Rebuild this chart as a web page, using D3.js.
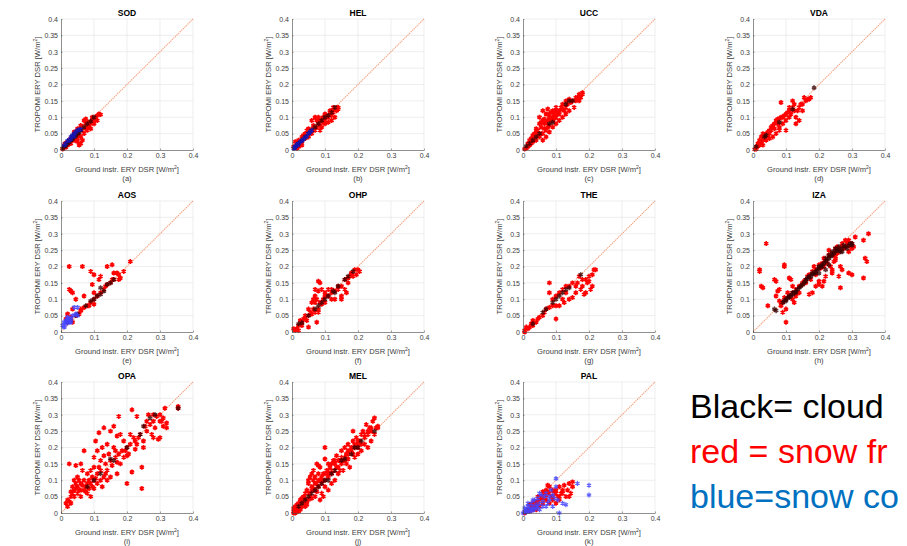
<!DOCTYPE html>
<html><head><meta charset="utf-8">
<script src="https://cdn.jsdelivr.net/npm/d3@7"></script>
<style>
html,body{margin:0;padding:0;background:#fff;overflow:hidden}
text{font-family:"Liberation Sans",Arial,Helvetica,sans-serif}
</style></head>
<body><svg id="c" width="907" height="546"></svg>
<script>
// ---------- data ----------
const stations = ["SOD","HEL","UCC","VDA","AOS","OHP","THE","IZA","OPA","MEL","PAL"];
const panelLetters = ["(a)","(b)","(c)","(d)","(e)","(f)","(g)","(h)","(i)","(j)","(k)"];
const xTicks = [0,0.1,0.2,0.3,0.4];
const xTickLabels = ["0","0.1","0.2","0.3","0.4"];
const yTicks = [0,0.05,0.1,0.15,0.2,0.25,0.3,0.35,0.4];
const yTickLabels = ["0","0.05","0.1","0.15","0.2","0.25","0.3","0.35","0.4"];
const xLabel = "Ground instr. ERY DSR [W/m";
const yLabel = "TROPOMI ERY DSR [W/m";
const legendLines = ["Black= cloud","red = snow fr","blue=snow co"];

// snow free (red)
const redSOD = [[0.005,0.003],[0.01,0.012],[0.012,0.02],[0.015,0.008],[0.02,0.025],[0.02,0.015],[0.025,0.03],[0.03,0.02],[0.03,0.035],[0.035,0.04],[0.04,0.03],[0.04,0.045],[0.045,0.05],[0.05,0.035],[0.05,0.055],[0.055,0.045],[0.06,0.065],[0.06,0.04],[0.065,0.07],[0.06,0.02],[0.055,0.015],[0.05,0.025],[0.07,0.09],[0.075,0.095],[0.08,0.085],[0.085,0.07],[0.09,0.08],[0.095,0.09],[0.1,0.095],[0.105,0.1],[0.11,0.105],[0.115,0.11],[0.12,0.108],[0.1,0.08],[0.09,0.065],[0.08,0.06],[0.07,0.05],[0.06,0.075],[0.05,0.065],[0.04,0.055],[0.075,0.065],[0.11,0.09],[0.065,0.03],[0.015,0.015],[0.025,0.02],[0.035,0.03],[0.045,0.04],[0.055,0.06],[0.065,0.06],[0.075,0.08],[0.085,0.085],[0.095,0.1],[0.105,0.095],[0.08,0.075]];
const redHEL = [[0.06,0.09],[0.07,0.1],[0.08,0.1],[0.09,0.095],[0.1,0.11],[0.11,0.1],[0.12,0.12],[0.13,0.125],[0.14,0.13],[0.13,0.1],[0.12,0.09],[0.1,0.08],[0.09,0.07],[0.08,0.085],[0.07,0.06],[0.06,0.05],[0.05,0.065],[0.045,0.06],[0.04,0.035],[0.03,0.04],[0.02,0.03],[0.01,0.025],[0.02,0.01],[0.03,0.015],[0.015,0.005],[0.005,0.01],[0.065,0.075],[0.075,0.09],[0.085,0.075],[0.095,0.1],[0.105,0.1],[0.115,0.11],[0.125,0.115],[0.135,0.12],[0.12,0.105],[0.11,0.085],[0.1,0.09],[0.04,0.05],[0.05,0.04],[0.035,0.045],[0.085,0.06],[0.095,0.085],[0.055,0.06],[0.065,0.065],[0.075,0.07],[0.085,0.09],[0.095,0.09],[0.105,0.105],[0.115,0.12],[0.125,0.13],[0.135,0.13],[0.14,0.125],[0.03,0.025],[0.025,0.02]];
const redUCC = [[0.05,0.1],[0.06,0.12],[0.07,0.11],[0.075,0.125],[0.08,0.1],[0.09,0.12],[0.1,0.13],[0.11,0.12],[0.12,0.14],[0.13,0.15],[0.14,0.155],[0.15,0.15],[0.16,0.16],[0.17,0.165],[0.18,0.17],[0.175,0.16],[0.165,0.155],[0.155,0.13],[0.14,0.12],[0.13,0.11],[0.12,0.1],[0.11,0.09],[0.1,0.08],[0.09,0.07],[0.085,0.09],[0.08,0.075],[0.07,0.06],[0.06,0.05],[0.05,0.04],[0.04,0.03],[0.03,0.025],[0.02,0.015],[0.01,0.005],[0.005,0.003],[0.015,0.02],[0.025,0.035],[0.035,0.05],[0.045,0.06],[0.055,0.07],[0.065,0.08],[0.075,0.09],[0.05,0.08],[0.06,0.09],[0.04,0.065],[0.03,0.045],[0.1,0.1],[0.105,0.11],[0.095,0.095],[0.115,0.13],[0.125,0.12],[0.135,0.14],[0.145,0.145],[0.06,0.03],[0.07,0.04],[0.09,0.1],[0.08,0.055],[0.18,0.175],[0.17,0.15],[0.02,0.03],[0.03,0.04],[0.04,0.055],[0.045,0.045],[0.055,0.085],[0.065,0.095],[0.07,0.085],[0.08,0.11],[0.085,0.115],[0.09,0.09],[0.095,0.11],[0.1,0.12],[0.11,0.11],[0.12,0.125],[0.13,0.13],[0.16,0.15],[0.17,0.17],[0.015,0.01],[0.025,0.02],[0.035,0.035],[0.055,0.05],[0.065,0.065],[0.075,0.07]];
const redVDA = [[0.005,0.002],[0.01,0.01],[0.015,0.02],[0.02,0.015],[0.02,0.03],[0.025,0.04],[0.03,0.03],[0.03,0.05],[0.035,0.045],[0.04,0.04],[0.04,0.05],[0.045,0.055],[0.05,0.05],[0.05,0.06],[0.055,0.07],[0.06,0.075],[0.065,0.08],[0.07,0.09],[0.075,0.08],[0.08,0.095],[0.08,0.07],[0.085,0.145],[0.09,0.1],[0.1,0.11],[0.1,0.09],[0.11,0.12],[0.11,0.1],[0.12,0.13],[0.12,0.15],[0.125,0.14],[0.13,0.1],[0.135,0.12],[0.14,0.13],[0.14,0.09],[0.15,0.14],[0.155,0.16],[0.16,0.15],[0.17,0.155],[0.175,0.16],[0.15,0.12],[0.13,0.08],[0.06,0.04],[0.05,0.035],[0.07,0.05],[0.08,0.06],[0.01,0.003],[0.03,0.015],[0.04,0.03],[0.1,0.06],[0.09,0.08],[0.11,0.13],[0.025,0.025],[0.035,0.035],[0.045,0.045],[0.055,0.06],[0.065,0.065],[0.075,0.095],[0.085,0.1],[0.095,0.105],[0.105,0.115],[0.115,0.11],[0.125,0.12],[0.145,0.14],[0.165,0.155],[0.015,0.012],[0.02,0.022]];
const redAOS = [[0.025,0.2],[0.065,0.2],[0.09,0.185],[0.1,0.175],[0.14,0.2],[0.155,0.205],[0.21,0.215],[0.19,0.185],[0.17,0.18],[0.175,0.175],[0.18,0.165],[0.115,0.16],[0.12,0.17],[0.03,0.125],[0.035,0.12],[0.025,0.13],[0.045,0.1],[0.07,0.11],[0.095,0.145],[0.1,0.12],[0.1,0.1],[0.11,0.11],[0.12,0.12],[0.13,0.13],[0.135,0.14],[0.14,0.145],[0.15,0.15],[0.155,0.16],[0.16,0.16],[0.175,0.16],[0.09,0.09],[0.085,0.08],[0.08,0.08],[0.07,0.075],[0.06,0.07],[0.06,0.065],[0.035,0.07],[0.055,0.055],[0.045,0.05],[0.02,0.055],[0.015,0.04],[0.03,0.045],[0.02,0.03],[0.16,0.18],[0.1,0.085],[0.035,0.03]];
const redOHP = [[0.08,0.155],[0.085,0.15],[0.07,0.13],[0.065,0.1],[0.07,0.11],[0.08,0.125],[0.09,0.13],[0.1,0.12],[0.11,0.13],[0.12,0.12],[0.13,0.125],[0.14,0.13],[0.15,0.14],[0.16,0.16],[0.17,0.165],[0.175,0.17],[0.18,0.18],[0.19,0.19],[0.2,0.19],[0.205,0.185],[0.195,0.175],[0.185,0.17],[0.16,0.13],[0.15,0.11],[0.15,0.1],[0.13,0.1],[0.12,0.1],[0.11,0.11],[0.1,0.09],[0.09,0.085],[0.08,0.07],[0.07,0.06],[0.06,0.055],[0.05,0.05],[0.05,0.07],[0.04,0.05],[0.04,0.04],[0.03,0.03],[0.025,0.035],[0.02,0.02],[0.015,0.01],[0.01,0.005],[0.005,0.01],[0.06,0.09],[0.07,0.09],[0.075,0.1],[0.08,0.06],[0.075,0.03],[0.05,0.015],[0.02,0.005],[0.03,0.02],[0.045,0.035],[0.1,0.11],[0.14,0.14],[0.17,0.15],[0.165,0.12],[0.035,0.04],[0.055,0.06],[0.065,0.07],[0.085,0.09],[0.095,0.1],[0.12,0.13],[0.18,0.175]];
const redTHE = [[0.08,0.15],[0.1,0.04],[0.08,0.12],[0.09,0.1],[0.1,0.11],[0.11,0.12],[0.12,0.1],[0.13,0.12],[0.14,0.14],[0.15,0.15],[0.16,0.14],[0.165,0.15],[0.17,0.17],[0.18,0.16],[0.19,0.16],[0.2,0.17],[0.21,0.175],[0.215,0.19],[0.22,0.19],[0.21,0.14],[0.205,0.13],[0.19,0.12],[0.185,0.115],[0.175,0.13],[0.16,0.12],[0.15,0.105],[0.14,0.1],[0.125,0.09],[0.11,0.08],[0.1,0.08],[0.09,0.08],[0.08,0.075],[0.07,0.07],[0.065,0.06],[0.06,0.05],[0.05,0.045],[0.045,0.04],[0.04,0.03],[0.03,0.035],[0.03,0.02],[0.025,0.025],[0.02,0.015],[0.015,0.01],[0.01,0.015],[0.005,0.005],[0.005,0],[0.195,0.15],[0.18,0.14],[0.2,0.155],[0.12,0.13],[0.13,0.14]];
const redIZA = [[0.04,0.27],[0.02,0.185],[0.02,0.19],[0.025,0.14],[0.03,0.135],[0.045,0.08],[0.065,0.16],[0.07,0.155],[0.075,0.125],[0.07,0.11],[0.08,0.13],[0.095,0.205],[0.095,0.2],[0.1,0.03],[0.1,0.07],[0.09,0.06],[0.085,0.09],[0.11,0.165],[0.115,0.16],[0.12,0.14],[0.125,0.09],[0.14,0.12],[0.15,0.15],[0.16,0.15],[0.17,0.115],[0.175,0.16],[0.2,0.145],[0.2,0.155],[0.21,0.14],[0.215,0.155],[0.24,0.19],[0.245,0.215],[0.25,0.22],[0.265,0.2],[0.27,0.19],[0.26,0.17],[0.265,0.135],[0.29,0.18],[0.3,0.175],[0.335,0.165],[0.335,0.28],[0.34,0.225],[0.345,0.215],[0.35,0.3],[0.3,0.27],[0.31,0.29],[0.3,0.255],[0.29,0.245],[0.28,0.26],[0.27,0.27],[0.25,0.255],[0.24,0.24],[0.23,0.235],[0.22,0.22],[0.21,0.21],[0.2,0.205],[0.19,0.19],[0.18,0.185],[0.17,0.175],[0.16,0.16],[0.15,0.145],[0.14,0.14],[0.13,0.13],[0.12,0.12],[0.11,0.11],[0.1,0.1],[0.09,0.09],[0.085,0.08],[0.08,0.095],[0.23,0.25],[0.24,0.18],[0.22,0.17],[0.235,0.2],[0.28,0.28],[0.26,0.245],[0.275,0.255],[0.255,0.26],[0.245,0.235],[0.225,0.21],[0.205,0.195],[0.215,0.225],[0.19,0.175],[0.185,0.2],[0.165,0.17],[0.155,0.155],[0.135,0.12],[0.105,0.12],[0.095,0.105],[0.12,0.1],[0.13,0.11],[0.215,0.2],[0.18,0.12],[0.19,0.14],[0.285,0.27],[0.295,0.26],[0.305,0.26],[0.27,0.26],[0.255,0.24],[0.25,0.23],[0.26,0.255],[0.29,0.28]];
const redOPA = [[0.015,0.03],[0.02,0.02],[0.02,0.04],[0.025,0.15],[0.025,0.035],[0.03,0.05],[0.03,0.03],[0.035,0.06],[0.035,0.08],[0.04,0.07],[0.04,0.1],[0.04,0.05],[0.045,0.09],[0.045,0.145],[0.05,0.06],[0.05,0.08],[0.05,0.11],[0.055,0.07],[0.06,0.09],[0.06,0.05],[0.06,0.15],[0.065,0.13],[0.07,0.19],[0.07,0.1],[0.07,0.07],[0.075,0.08],[0.08,0.12],[0.08,0.06],[0.085,0.1],[0.09,0.13],[0.09,0.09],[0.09,0.05],[0.095,0.11],[0.1,0.075],[0.1,0.14],[0.1,0.17],[0.105,0.22],[0.11,0.19],[0.11,0.12],[0.11,0.09],[0.115,0.245],[0.12,0.1],[0.12,0.16],[0.12,0.13],[0.125,0.2],[0.13,0.26],[0.13,0.11],[0.135,0.15],[0.14,0.21],[0.14,0.13],[0.145,0.18],[0.15,0.25],[0.15,0.16],[0.155,0.145],[0.16,0.2],[0.16,0.265],[0.165,0.17],[0.17,0.235],[0.17,0.12],[0.175,0.295],[0.175,0.18],[0.18,0.15],[0.185,0.19],[0.19,0.22],[0.19,0.17],[0.2,0.2],[0.2,0.09],[0.205,0.18],[0.21,0.21],[0.215,0.125],[0.215,0.315],[0.22,0.23],[0.225,0.195],[0.23,0.295],[0.23,0.21],[0.24,0.24],[0.245,0.14],[0.245,0.075],[0.25,0.22],[0.255,0.265],[0.26,0.25],[0.265,0.3],[0.27,0.27],[0.275,0.24],[0.28,0.28],[0.285,0.26],[0.29,0.295],[0.295,0.225],[0.3,0.3],[0.305,0.28],[0.31,0.265],[0.31,0.29],[0.315,0.32],[0.32,0.26],[0.32,0.275],[0.355,0.32],[0.355,0.325],[0.3,0.23],[0.28,0.23],[0.25,0.2],[0.21,0.24],[0.18,0.24],[0.15,0.11],[0.13,0.175],[0.1,0.1],[0.08,0.09],[0.06,0.07],[0.055,0.1],[0.075,0.065],[0.095,0.08],[0.125,0.08],[0.14,0.1],[0.17,0.155],[0.2,0.175],[0.235,0.23],[0.26,0.28],[0.28,0.3],[0.3,0.28],[0.03,0.065],[0.045,0.075],[0.065,0.085],[0.085,0.075],[0.105,0.105],[0.115,0.14],[0.135,0.12],[0.165,0.19],[0.195,0.19],[0.225,0.22]];
const redMEL = [[0.005,0.005],[0.005,0.015],[0.01,0.0],[0.01,0.02],[0.015,0.01],[0.015,0.025],[0.02,0.005],[0.02,0.03],[0.025,0.015],[0.025,0.04],[0.03,0.02],[0.03,0.045],[0.035,0.03],[0.035,0.05],[0.04,0.02],[0.04,0.06],[0.045,0.035],[0.045,0.07],[0.05,0.04],[0.05,0.09],[0.055,0.06],[0.055,0.11],[0.06,0.045],[0.06,0.08],[0.065,0.1],[0.065,0.13],[0.07,0.07],[0.07,0.11],[0.075,0.09],[0.075,0.15],[0.08,0.08],[0.08,0.12],[0.085,0.1],[0.085,0.14],[0.09,0.09],[0.09,0.06],[0.095,0.05],[0.095,0.12],[0.1,0.1],[0.1,0.165],[0.105,0.13],[0.11,0.11],[0.11,0.15],[0.115,0.14],[0.12,0.12],[0.12,0.09],[0.125,0.16],[0.13,0.13],[0.13,0.1],[0.135,0.175],[0.14,0.14],[0.14,0.12],[0.145,0.16],[0.15,0.15],[0.15,0.19],[0.155,0.13],[0.16,0.17],[0.16,0.2],[0.165,0.15],[0.17,0.18],[0.17,0.21],[0.175,0.14],[0.18,0.19],[0.185,0.22],[0.185,0.25],[0.19,0.2],[0.19,0.17],[0.195,0.23],[0.2,0.21],[0.2,0.18],[0.205,0.22],[0.21,0.24],[0.21,0.19],[0.215,0.25],[0.22,0.23],[0.225,0.27],[0.23,0.24],[0.235,0.26],[0.24,0.25],[0.245,0.28],[0.25,0.29],[0.255,0.26],[0.26,0.265],[0.25,0.24],[0.24,0.22],[0.22,0.21],[0.23,0.2],[0.05,0.1],[0.08,0.145],[0.1,0.2],[0.06,0.12],[0.045,0.025],[0.085,0.04],[0.07,0.05],[0.11,0.07],[0.12,0.15],[0.145,0.13],[0.17,0.165],[0.13,0.16],[0.065,0.075],[0.035,0.04],[0.025,0.025],[0.015,0.015],[0.1,0.08],[0.09,0.11],[0.11,0.12],[0.075,0.065],[0.055,0.05],[0.04,0.045],[0.02,0.02],[0.185,0.18],[0.2,0.2],[0.165,0.18],[0.155,0.16],[0.135,0.14],[0.03,0.035],[0.04,0.03],[0.05,0.06],[0.06,0.07],[0.07,0.09],[0.08,0.1],[0.09,0.1],[0.1,0.12],[0.11,0.13],[0.12,0.13],[0.13,0.15],[0.14,0.16],[0.15,0.17],[0.16,0.16],[0.17,0.19],[0.18,0.2],[0.19,0.21],[0.2,0.22],[0.21,0.21],[0.22,0.24],[0.23,0.25],[0.24,0.26],[0.26,0.26],[0.015,0.005],[0.025,0.01],[0.005,0.0],[0.01,0.01]];
const redPAL = [[0.14,0.09],[0.15,0.095],[0.13,0.05],[0.14,0.05],[0.12,0.07],[0.11,0.08],[0.1,0.06],[0.09,0.07],[0.08,0.08],[0.085,0.05],[0.075,0.065],[0.07,0.04],[0.065,0.06],[0.06,0.03],[0.055,0.05],[0.05,0.04],[0.045,0.03],[0.04,0.035],[0.035,0.02],[0.03,0.03],[0.025,0.015],[0.02,0.025],[0.015,0.01],[0.01,0.005],[0.005,0],[0.02,0.005],[0.03,0.01],[0.04,0.01],[0.05,0.02],[0.06,0.045],[0.07,0.055],[0.075,0.085],[0.09,0.04],[0.1,0.03],[0.11,0.04],[0.125,0.085],[0.145,0.06],[0.15,0.08],[0.095,0.065],[0.08,0.03],[0.105,0.05],[0.115,0.06],[0.135,0.07],[0.06,0.065],[0.045,0.05],[0.03,0.02],[0.04,0.025],[0.05,0.05],[0.06,0.05],[0.07,0.07],[0.08,0.06],[0.09,0.05],[0.1,0.07],[0.11,0.05],[0.12,0.06]];

// cloud free (black)
const blackSOD = [[0.005,0.005],[0.01,0.01],[0.02,0.02],[0.03,0.03],[0.04,0.04],[0.05,0.05],[0.06,0.06],[0.07,0.07],[0.08,0.08],[0.09,0.088],[0.1,0.1],[0.015,0.013],[0.025,0.024],[0.035,0.033],[0.045,0.043],[0.055,0.053]];
const blackHEL = [[0.01,0.01],[0.02,0.02],[0.03,0.03],[0.04,0.04],[0.05,0.05],[0.06,0.06],[0.07,0.07],[0.08,0.08],[0.09,0.09],[0.1,0.1],[0.11,0.105],[0.12,0.115],[0.13,0.13]];
const blackUCC = [[0.01,0.012],[0.02,0.02],[0.03,0.03],[0.04,0.04],[0.05,0.05],[0.08,0.08],[0.09,0.085],[0.13,0.14],[0.14,0.15],[0.15,0.15]];
const blackVDA = [[0.035,0.04],[0.04,0.045],[0.08,0.085],[0.185,0.19],[0.12,0.125],[0.01,0.01]];
const blackAOS = [[0.02,0.03],[0.03,0.035],[0.045,0.05],[0.05,0.055],[0.1,0.1],[0.11,0.11],[0.12,0.115],[0.13,0.125],[0.14,0.145],[0.15,0.15],[0.16,0.16],[0.12,0.135],[0.075,0.08],[0.09,0.095]];
const blackOHP = [[0.02,0.025],[0.03,0.028],[0.05,0.05],[0.07,0.07],[0.09,0.09],[0.1,0.1],[0.11,0.11],[0.125,0.125],[0.13,0.12],[0.14,0.14],[0.16,0.16],[0.17,0.17],[0.185,0.185],[0.08,0.08]];
const blackTHE = [[0.03,0.025],[0.06,0.06],[0.07,0.07],[0.09,0.09],[0.11,0.11],[0.12,0.12],[0.13,0.13],[0.14,0.135],[0.175,0.175],[0.1,0.1]];
const blackIZA = [[0.09,0.09],[0.095,0.095],[0.1,0.1],[0.105,0.105],[0.11,0.11],[0.12,0.115],[0.13,0.125],[0.14,0.135],[0.15,0.145],[0.16,0.16],[0.17,0.17],[0.18,0.18],[0.19,0.185],[0.2,0.195],[0.21,0.2],[0.22,0.215],[0.23,0.225],[0.24,0.235],[0.25,0.245],[0.26,0.25],[0.27,0.255],[0.28,0.26],[0.29,0.265],[0.3,0.27],[0.255,0.25],[0.265,0.245],[0.245,0.24],[0.235,0.23],[0.225,0.22],[0.215,0.21],[0.205,0.2],[0.195,0.19],[0.185,0.18],[0.175,0.17],[0.165,0.165],[0.155,0.15],[0.145,0.14],[0.135,0.13],[0.125,0.12],[0.115,0.11],[0.27,0.245],[0.275,0.265],[0.285,0.255],[0.26,0.26],[0.25,0.255],[0.24,0.245],[0.23,0.235],[0.22,0.225],[0.21,0.205],[0.2,0.2],[0.19,0.18],[0.18,0.175],[0.17,0.165],[0.16,0.155],[0.295,0.27],[0.3,0.265],[0.23,0.205],[0.22,0.19],[0.1,0.095],[0.11,0.105],[0.12,0.12],[0.13,0.12],[0.065,0.07],[0.07,0.065],[0.2,0.18]];
const blackOPA = [[0.08,0.08],[0.1,0.1],[0.12,0.12],[0.15,0.165],[0.16,0.16],[0.2,0.2],[0.24,0.24],[0.25,0.265],[0.27,0.29],[0.285,0.3],[0.355,0.32]];
const blackMEL = [[0.02,0.02],[0.03,0.03],[0.04,0.04],[0.05,0.05],[0.07,0.07],[0.09,0.09],[0.1,0.1],[0.12,0.12],[0.13,0.13],[0.15,0.16],[0.16,0.165],[0.18,0.18],[0.19,0.2],[0.2,0.2],[0.21,0.22],[0.25,0.25],[0.06,0.06],[0.08,0.08],[0.11,0.1]];
const blackPAL = [];

// snow covered (blue)
const blueSOD = [[0.01,0.015],[0.02,0.028],[0.03,0.04],[0.035,0.045],[0.04,0.05],[0.045,0.055],[0.05,0.06],[0.055,0.062],[0.06,0.063],[0.025,0.03],[0.015,0.02],[0.03,0.033],[0.04,0.042]];
const blueHEL = [[0.005,0.005],[0.01,0.01],[0.015,0.017],[0.02,0.02],[0.025,0.025],[0.03,0.028],[0.035,0.033],[0.04,0.038],[0.045,0.042],[0.05,0.05],[0.055,0.055],[0.06,0.06],[0.012,0.012],[0.008,0.006],[0.018,0.015]];
const blueUCC = [];
const blueVDA = [];
const blueAOS = [[0.005,0.02],[0.01,0.03],[0.015,0.035],[0.02,0.045],[0.025,0.04],[0.03,0.04],[0.035,0.05],[0.04,0.075],[0.05,0.075],[0.045,0.055],[0.01,0.015],[0.02,0.035],[0.025,0.03],[0.05,0.05],[0.03,0.03],[0.015,0.025]];
const blueOHP = [];
const blueTHE = [];
const blueIZA = [];
const blueOPA = [];
const blueMEL = [];
const bluePAL = [[0.0,0.0],[0.005,0.005],[0.01,0.01],[0.015,0.02],[0.02,0.015],[0.025,0.03],[0.03,0.02],[0.035,0.04],[0.04,0.025],[0.045,0.045],[0.05,0.03],[0.055,0.055],[0.06,0.035],[0.065,0.05],[0.07,0.06],[0.075,0.03],[0.08,0.05],[0.085,0.07],[0.09,0.055],[0.095,0.045],[0.1,0.105],[0.1,0.08],[0.105,0.04],[0.11,0.0],[0.12,0.03],[0.13,0.025],[0.165,0.09],[0.2,0.085],[0.2,0.055],[0.01,0.002],[0.02,0.005],[0.03,0.008],[0.04,0.015],[0.05,0.01],[0.06,0.02],[0.015,0.005],[0.025,0.01],[0.035,0.012],[0.045,0.02],[0.07,0.02],[0.09,0.02],[0.08,0.04],[0.05,0.06],[0.03,0.04],[0.015,0.03],[0.005,0.015]];

const redSets = [redSOD,redHEL,redUCC,redVDA,redAOS,redOHP,redTHE,redIZA,redOPA,redMEL,redPAL];
const blackSets = [blackSOD,blackHEL,blackUCC,blackVDA,blackAOS,blackOHP,blackTHE,blackIZA,blackOPA,blackMEL,blackPAL];
const blueSets = [blueSOD,blueHEL,blueUCC,blueVDA,blueAOS,blueOHP,blueTHE,blueIZA,blueOPA,blueMEL,bluePAL];

// ---------- drawing ----------
const svg = d3.select("#c");
const PW = 132, PH = 131;
const colX = [61, 292, 523, 753];
const rowY = [19, 201, 382];
const sym = d3.symbol(d3.symbolAsterisk, 17);

stations.forEach((name, i) => {
  const col = i % 4, row = Math.floor(i / 4);
  const g = svg.append("g").attr("transform", `translate(${colX[col]},${rowY[row]})`);
  const x = d3.scaleLinear().domain([0, 0.4]).range([0, PW]);
  const y = d3.scaleLinear().domain([0, 0.4]).range([PH, 0]);

  // grid
  g.append("g").selectAll("line").data(xTicks.slice(1)).join("line")
    .attr("x1", d => x(d)).attr("x2", d => x(d)).attr("y1", 0).attr("y2", PH)
    .attr("stroke", "#e3e3e3").attr("stroke-width", 0.6);
  g.append("g").selectAll("line").data(yTicks.slice(1)).join("line")
    .attr("x1", 0).attr("x2", PW).attr("y1", d => y(d)).attr("y2", d => y(d))
    .attr("stroke", "#e3e3e3").attr("stroke-width", 0.6);

  // 1:1 line
  g.append("line").attr("x1", x(0)).attr("y1", y(0)).attr("x2", x(0.4)).attr("y2", y(0.4))
    .attr("stroke", "#f5a27f").attr("stroke-width", 1.1).attr("stroke-dasharray", "1.4,0.8");

  // points
  const drawSet = (data, color, op, sw) => g.append("g").selectAll("path").data(data).join("path")
    .attr("d", sym).attr("transform", d => `translate(${x(d[0])},${y(d[1])})`)
    .attr("fill", "none").attr("stroke", color).attr("stroke-width", sw).attr("opacity", op);
  drawSet(redSets[i], "#ff0000", 1, 1.6);
  drawSet(blackSets[i], "#3a0000", 0.8, 1.5);
  drawSet(blueSets[i], i === 10 || i === 4 ? "#4444ff" : "#1515b0", 0.85, i === 10 ? 1.2 : 1.5);

  // axes
  const ax = g.append("g").attr("transform", `translate(0,${PH})`)
    .call(d3.axisBottom(x).tickValues(xTicks).tickFormat((d, k) => xTickLabels[k])
      .tickSizeInner(-1.5).tickSizeOuter(0).tickPadding(3));
  const ay = g.append("g")
    .call(d3.axisLeft(y).tickValues(yTicks).tickFormat((d, k) => yTickLabels[k])
      .tickSizeInner(-1.5).tickSizeOuter(0).tickPadding(3));
  [ax, ay].forEach(a => {
    a.select(".domain").attr("stroke", "#444").attr("stroke-width", 0.6);
    a.selectAll(".tick line").attr("stroke", "#444").attr("stroke-width", 0.5);
    a.selectAll("text").attr("fill", "#404040").style("font-size", "7px")
      .style("font-family", '"Liberation Sans",Arial,sans-serif');
  });

  // title
  g.append("text").attr("x", PW / 2).attr("y", -3).attr("text-anchor", "middle")
    .style("font-size", "8.5px").style("font-weight", "bold").attr("fill", "#000").text(name);

  // x label
  const xl = g.append("text").attr("x", PW / 2).attr("y", PH + 22).attr("text-anchor", "middle")
    .style("font-size", "7.6px").attr("fill", "#404040");
  xl.append("tspan").text(xLabel);
  xl.append("tspan").attr("dy", -3).style("font-size", "5px").text("2");
  xl.append("tspan").attr("dy", 3).text("]");

  g.append("text").attr("x", PW / 2).attr("y", PH + 31).attr("text-anchor", "middle")
    .style("font-size", "7.6px").attr("fill", "#404040").text(panelLetters[i]);

  // y label
  const yl = g.append("text").attr("transform", `translate(-21,${PH / 2}) rotate(-90)`)
    .attr("text-anchor", "middle").style("font-size", "7.6px").attr("fill", "#404040");
  yl.append("tspan").text(yLabel);
  yl.append("tspan").attr("dy", -3).style("font-size", "5px").text("2");
  yl.append("tspan").attr("dy", 3).text("]");
});

// legend text (as visible in the reference)
const legendColors = ["#000000", "#ff0000", "#0070c0"];
const legendY = [418, 463, 508];
svg.append("g").selectAll("text").data(legendLines).join("text")
  .attr("x", 690).attr("y", (d, k) => legendY[k])
  .attr("fill", (d, k) => legendColors[k])
  .style("font-size", "34px").text(d => d);
</script>
</body></html>
